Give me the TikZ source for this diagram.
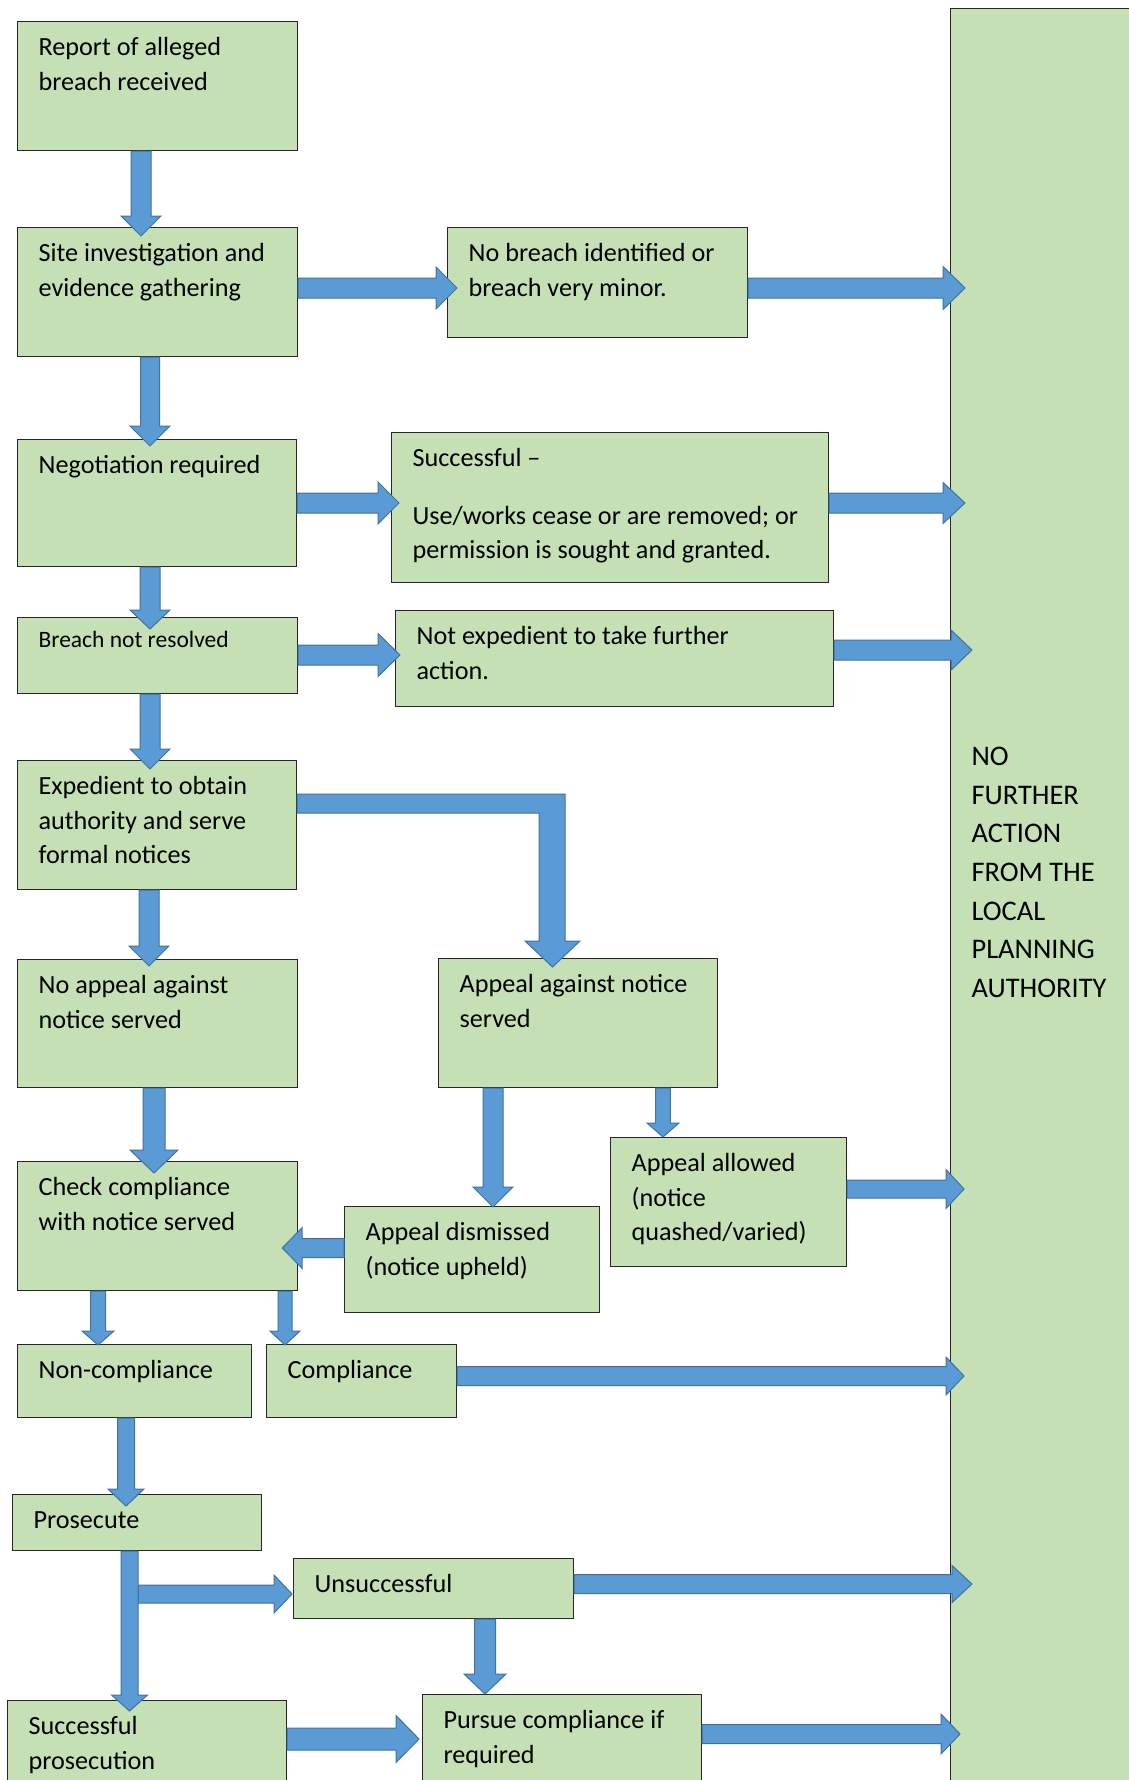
\documentclass[tikz,border=0pt]{standalone}
\usepackage{fontspec}
\setmainfont{Carlito}
\usepackage{tikz}
\usetikzlibrary{calc}
\definecolor{boxgreen}{RGB}{197,224,180}
\definecolor{arrowblue}{RGB}{91,155,213}
\definecolor{arrowedge}{RGB}{65,113,156}

\newcommand{\stagefont}{\fontsize{26.2pt}{34.5pt}\selectfont}
\newcommand{\smallstagefont}{\fontsize{23.5pt}{30pt}\selectfont}
\newcommand{\nfafont}{\fontsize{28.4pt}{38.6pt}\selectfont}

% box with text set from its top left corner
\newcommand{\stage}[7][]{%
  \node[stagebox,#1] (#2) at (#3,#4)
    {\parbox[c][\dimexpr#6pt-20pt\relax][t]{\dimexpr#5pt-42pt\relax}{\raggedright\strut#7}};}

% block arrows: from, to, half shaft, half head, head length
\newcommand{\hblock}[5]{%
  \draw[blockarrow] let \p1=#1, \p2=#2 in
    (\x1,{\y1+#3}) -- ({\x2-(#5)},{\y1+#3}) -- ({\x2-(#5)},{\y1+#4}) -- (\x2,\y1)
    -- ({\x2-(#5)},{\y1-#4}) -- ({\x2-(#5)},{\y1-#3}) -- (\x1,{\y1-#3}) -- cycle;}
\newcommand{\vblock}[5]{%
  \draw[blockarrow] let \p1=#1, \p2=#2 in
    ({\x1-#3},\y1) -- ({\x1-#3},{\y2+#5}) -- ({\x1-#4},{\y2+#5}) -- (\x1,\y2)
    -- ({\x1+#4},{\y2+#5}) -- ({\x1+#3},{\y2+#5}) -- ({\x1+#3},\y1) -- cycle;}

\begin{document}
\begin{tikzpicture}[x=1pt, y=-1pt,
    stagebox/.style={draw=black!85, line width=1.2pt, fill=boxgreen,
      anchor=north west, inner xsep=21pt, inner ysep=10pt, font=\stagefont},
    blockarrow/.style={fill=arrowblue, draw=arrowedge, line width=1pt, line join=miter}]
  \useasboundingbox (0,0) rectangle (1128,1780);

  % stages
  \stage{report}{17}{21}{280}{129}{Report of alleged\\breach received}
  \stage{site}{17}{227}{280}{129}{Site investigation and\\evidence gathering}
  \stage{nobreach}{447}{227}{300}{110}{No breach identified or\\breach very minor.}
  \stage{neg}{17}{439}{279}{127}{Negotiation required}
  \stage{succ}{391}{432}{437}{150}{Successful --\\[23pt]Use/works cease or are removed; or\\permission is sought and granted.}
  \stage[font=\smallstagefont, inner ysep=9pt]{breach}{17}{617}{280}{78}{Breach not resolved}
  \stage{notexp}{395}{610}{438}{96}{Not expedient to take further\\action.}
  \stage{exped}{17}{760}{279}{129}{Expedient to obtain\\authority and serve\\formal notices}
  \stage{noappeal}{17}{959}{280}{128}{No appeal against\\notice served}
  \stage{appealag}{438}{958}{279}{129}{Appeal against notice\\served}
  \stage{check}{17}{1161}{280}{129}{Check compliance\\with notice served}
  \stage{dismissed}{344}{1206}{255}{106}{Appeal dismissed\\(notice upheld)}
  \stage{allowed}{610}{1137}{236}{129}{Appeal allowed\\(notice\\quashed/varied)}
  \stage{noncomp}{17}{1344}{234}{73}{Non-compliance}
  \stage{comp}{266}{1344}{190}{73}{Compliance}
  \stage{prosecute}{12}{1494}{249}{56}{Prosecute}
  \stage{unsucc}{293}{1558}{280}{60}{Unsuccessful}
  \stage{succpros}{7}{1700}{279}{110}{Successful\\prosecution}
  \stage{pursue}{422}{1694}{279}{110}{Pursue compliance if\\required}
  \node[stagebox, font=\nfafont] (nfa) at (950,8)
    {\parbox[c][1770pt][t]{148pt}{\vspace*{720pt}\raggedright\strut
      NO\\FURTHER\\ACTION\\FROM THE\\LOCAL\\PLANNING\\AUTHORITY}};
  \coordinate (fork) at (138,1594);

  % main column
  \vblock{(report.south -| 141,0)}{($(site.north)+(0,9)$)}{10pt}{20pt}{20pt}
  \vblock{(site.south -| 150,0)}{($(neg.north)+(0,7)$)}{9.5pt}{20pt}{20pt}
  \vblock{(neg.south -| 150,0)}{($(breach.north)+(0,12)$)}{10pt}{20pt}{19pt}
  \vblock{(breach.south -| 150,0)}{($(exped.north)+(0,9)$)}{10pt}{20pt}{20pt}
  \vblock{(exped.south -| 149,0)}{($(noappeal.north)+(0,7)$)}{10pt}{20pt}{20pt}
  \vblock{(noappeal.south -| 154,0)}{($(check.north)+(0,12)$)}{11pt}{24pt}{23pt}
  \vblock{(check.south -| 98,0)}{($(noncomp.north)+(0,1)$)}{7.5pt}{16pt}{14pt}
  \vblock{(check.south -| 285,0)}{($(comp.north)+(0,1)$)}{7pt}{15pt}{14pt}
  \vblock{(noncomp.south -| 126,0)}{($(prosecute.north)+(0,12)$)}{8.5pt}{18pt}{17pt}
  \hblock{(fork)}{($(unsucc.west)+(-1,0)$)}{9pt}{19pt}{18pt}
  \vblock{(prosecute.south -| 129.5,0)}{($(succpros.north)+(0,11)$)}{8.5pt}{18pt}{16pt}

  % side branches
  \hblock{(site.east |- 0,288)}{($(nobreach.west)+(10,0)$)}{10pt}{21pt}{21pt}
  \hblock{(neg.east |- 0,503)}{($(succ.west)+(8,0)$)}{10pt}{21pt}{21pt}
  \hblock{(breach.east |- 0,655)}{($(notexp.west)+(5,0)$)}{10pt}{21.5pt}{22pt}
  \draw[blockarrow] (exped.east |- 0,794) -- (565,794) -- (565,941) -- (580,941)
    -- ($(appealag.north -| 552.5,0)+(0,9)$) -- (525,941) -- (539,941)
    -- (539,813) -- (exped.east |- 0,813) -- cycle;
  \vblock{(appealag.south -| 493,0)}{($(dismissed.north)+(0,1)$)}{10pt}{20pt}{20pt}
  \vblock{(appealag.south -| 663,0)}{(allowed.north)}{7.3pt}{16pt}{14pt}
  \hblock{(dismissed.west |- 0,1248)}{($(check.east)+(-16,0)$)}{9.5pt}{20.5pt}{-20pt}
  \vblock{(unsucc.south -| 485,0)}{(pursue.north)}{10.5pt}{21pt}{20pt}
  \hblock{(succpros.east |- 0,1739)}{($(pursue.west)+(-3,0)$)}{11pt}{23.5pt}{23pt}

  % into the right-hand box
  \hblock{(nobreach.east |- 0,288)}{($(nfa.west)+(15,0)$)}{10pt}{21.5pt}{22pt}
  \hblock{(succ.east |- 0,503)}{($(nfa.west)+(15,0)$)}{10pt}{20.5pt}{22pt}
  \hblock{(notexp.east |- 0,650)}{($(nfa.west)+(22,0)$)}{10pt}{20pt}{21pt}
  \hblock{(allowed.east |- 0,1189)}{($(nfa.west)+(14,0)$)}{9pt}{19.5pt}{18pt}
  \hblock{(comp.east |- 0,1376)}{($(nfa.west)+(14,0)$)}{9.5pt}{19pt}{18pt}
  \hblock{(unsucc.east |- 0,1584)}{($(nfa.west)+(22,0)$)}{9.5pt}{18.5pt}{20pt}
  \hblock{(pursue.east |- 0,1734)}{($(nfa.west)+(10,0)$)}{9.5pt}{20pt}{19pt}
\end{tikzpicture}
\end{document}
